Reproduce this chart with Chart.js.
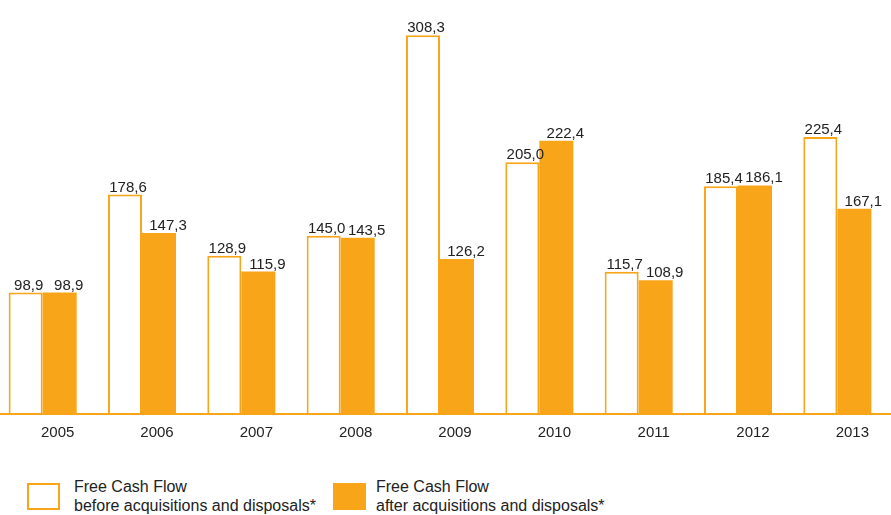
<!DOCTYPE html>
<html>
<head>
<meta charset="utf-8">
<script src="https://cdn.jsdelivr.net/npm/chart.js@4"></script>
<style>
	html, body {
		margin: 0;
		padding: 0;
		background: #fff;
		overflow: hidden;
		width: 891px;
		height: 515px;
		font-family: "Liberation Sans", Arial, sans-serif;
	}
	#wrap {
		position: absolute;
		left: -7px;
		top: 0;
		width: 900px;
		height: 452px;
	}
	.legend-box {
		position: absolute;
		top: 483px;
		width: 33px;
		height: 27px;
		box-sizing: border-box;
	}
	.legend-text {
		position: absolute;
		top: 477px;
		font-size: 16px;
		line-height: 19px;
		color: #222;
		white-space: nowrap;
	}
</style>
</head>
<body>
<div id="wrap"><canvas id="fcf-chart"></canvas></div>

<div class="legend-box" style="left:27px; border:2px solid #F9A51A; background:#fff;"></div>
<div class="legend-text" style="left:74px;">Free Cash Flow<br>before acquisitions and disposals*</div>
<div class="legend-box" style="left:333px; background:#F9A51A;"></div>
<div class="legend-text" style="left:376px;">Free Cash Flow<br>after acquisitions and disposals*</div>

<script>
const ORANGE = "#F9A51A";

const years = ["2005", "2006", "2007", "2008", "2009", "2010", "2011", "2012", "2013"];
const fcfBefore = [98.9, 178.6, 128.9, 145.0, 308.3, 205.0, 115.7, 185.4, 225.4];
const fcfAfter = [98.9, 147.3, 115.9, 143.5, 126.2, 222.4, 108.9, 186.1, 167.1];

// value labels above each bar, comma as decimal separator
const valueLabels = {
	id: "valueLabels",
	afterDatasetsDraw(chart) {
		const ctx = chart.ctx;
		ctx.save();
		ctx.font = '15px "Liberation Sans", Arial, sans-serif';
		ctx.fillStyle = "#222";
		ctx.textAlign = "center";
		ctx.textBaseline = "alphabetic";
		chart.data.datasets.forEach((ds, i) => {
			const meta = chart.getDatasetMeta(i);
			const shift = i == 0 ? 3 : 9;
			meta.data.forEach((bar, j) => {
				const txt = ds.data[j].toFixed(1).replace(".", ",");
				ctx.fillText(txt, bar.x + shift, bar.y - 3);
			});
		});
		ctx.restore();
	},
};

// orange baseline running across the full width
const baseline = {
	id: "baseline",
	afterDatasetsDraw(chart) {
		const ctx = chart.ctx;
		const y = chart.scales.y.getPixelForValue(0);
		ctx.save();
		ctx.strokeStyle = ORANGE;
		ctx.lineWidth = 2;
		ctx.beginPath();
		ctx.moveTo(0, y);
		ctx.lineTo(chart.width, y);
		ctx.stroke();
		ctx.restore();
	},
};

const chart = new Chart(document.getElementById("fcf-chart"), {
	type: "bar",
	data: {
		labels: years,
		datasets: [
			{
				label: "Free Cash Flow before acquisitions and disposals*",
				data: fcfBefore,
				backgroundColor: "#fff",
				borderColor: ORANGE,
				borderWidth: 2,
				categoryPercentage: 0.685,
				barPercentage: 1,
			},
			{
				label: "Free Cash Flow after acquisitions and disposals*",
				data: fcfAfter,
				backgroundColor: ORANGE,
				borderWidth: 0,
				categoryPercentage: 0.685,
				barPercentage: 1,
			},
		],
	},
	options: {
		responsive: true,
		maintainAspectRatio: false,
		animation: false,
		devicePixelRatio: 1,
		layout: { padding: { left: 0, right: 6, top: 0, bottom: 0 } },
		plugins: {
			legend: { display: false },
			tooltip: { enabled: false },
		},
		scales: {
			x: {
				grid: { display: false, drawTicks: false },
				border: { display: false },
				ticks: {
					color: "#222",
					font: { family: '"Liberation Sans", Arial, sans-serif', size: 15 },
					padding: 10,
					labelOffset: 15,
				},
			},
			y: {
				display: false,
				min: 0,
				max: 337,
			},
		},
	},
	plugins: [valueLabels, baseline],
});
</script>
</body>
</html>
